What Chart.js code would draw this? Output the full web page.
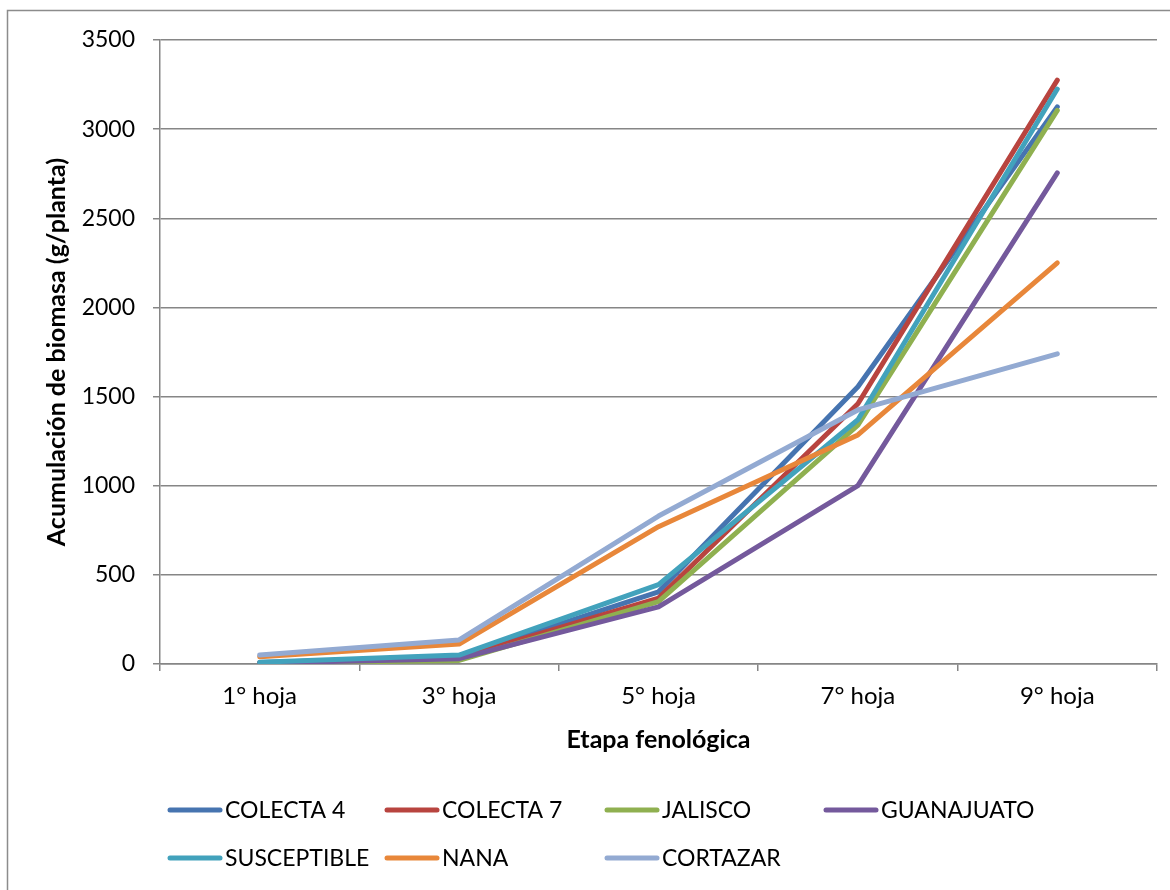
<!DOCTYPE html>
<html>
<head>
<meta charset="utf-8">
<title>Acumulación de biomasa</title>
<script src="https://cdn.jsdelivr.net/npm/chart.js@4.4.1/dist/chart.umd.min.js"></script>
<style>
  html, body { margin: 0; padding: 0; background: #fff; overflow: hidden; }
  canvas { display: block; }
</style>
</head>
<body>
<canvas id="biomasaChart" width="1170" height="890"></canvas>
<script>
// etapas y acumulación de biomasa (g/planta) por material
const stages = ["1° hoja", "3° hoja", "5° hoja", "7° hoja", "9° hoja"];
const colecta4 = [8, 40, 405, 1555, 3125];
const colecta7 = [6, 35, 370, 1460, 3275];
const jalisco = [4, 20, 350, 1340, 3105];
const guanajuato = [5, 30, 320, 1000, 2755];
const susceptible = [10, 50, 445, 1370, 3225];
const nana = [40, 112, 770, 1285, 2250];
const cortazar = [50, 135, 830, 1425, 1740];

const seriesNames = ["COLECTA 4", "COLECTA 7", "JALISCO", "GUANAJUATO", "SUSCEPTIBLE", "NANA", "CORTAZAR"];
const seriesData = [colecta4, colecta7, jalisco, guanajuato, susceptible, nana, cortazar];
const seriesColors = ["#4674B0", "#B8443F", "#8FB050", "#74599C", "#42A2BC", "#E8873A", "#93AAD2"];

const FONT = "Lato, 'Liberation Sans', sans-serif";
const GRID = "#868686";
Chart.defaults.font.family = FONT;
Chart.defaults.color = "#000";

// marco exterior (solo borde superior e izquierdo quedan dentro del lienzo)
const framePlugin = {
  id: "frame",
  beforeDraw(chart) {
    const { ctx } = chart;
    ctx.save();
    ctx.strokeStyle = "#8c8c8c";
    ctx.lineWidth = 1.5;
    ctx.beginPath();
    ctx.moveTo(7.5, chart.height);
    ctx.lineTo(7.5, 10.5);
    ctx.lineTo(chart.width, 10.5);
    ctx.stroke();
    ctx.restore();
  }
};

// leyenda en rejilla de 4 columnas
const gridLegend = {
  id: "gridLegend",
  afterDraw(chart) {
    const { ctx } = chart;
    const cols = [168, 385, 605, 824];
    const rows = [810, 858];
    ctx.save();
    ctx.font = `23px ${FONT}`;
    ctx.textBaseline = "middle";
    ctx.fillStyle = "#000";
    chart.data.datasets.forEach((ds, i) => {
      const x = cols[i % 4];
      const y = rows[Math.floor(i / 4)];
      ctx.strokeStyle = ds.borderColor;
      ctx.lineWidth = 5;
      ctx.lineCap = "round";
      ctx.beginPath();
      ctx.moveTo(x + 2, y);
      ctx.lineTo(x + 52, y);
      ctx.stroke();
      ctx.fillText(ds.label, x + 57, y + 1);
    });
    ctx.restore();
  }
};

new Chart(document.getElementById("biomasaChart"), {
  type: "line",
  data: {
    labels: stages,
    datasets: seriesNames.map((name, i) => ({
      label: name,
      data: seriesData[i],
      borderColor: seriesColors[i],
      backgroundColor: seriesColors[i],
      borderWidth: 5,
      borderCapStyle: "round",
      borderJoinStyle: "round",
      pointRadius: 0,
      tension: 0,
      order: seriesNames.length - i
    }))
  },
  options: {
    responsive: false,
    animation: false,
    layout: { padding: { left: 0, right: 13, top: 40, bottom: 130 } },
    plugins: { legend: { display: false }, tooltip: { enabled: false } },
    scales: {
      x: {
        offset: true,
        grid: { drawOnChartArea: false, drawTicks: true, tickLength: 7, offset: true, color: GRID, lineWidth: 1.5 },
        border: { color: GRID, width: 1.5 },
        ticks: { font: { size: 24 }, padding: 11, color: "#000" },
        title: { display: true, text: "Etapa fenológica", font: { size: 25, weight: "bold" }, color: "#000", padding: { top: 0, bottom: 5 } },
        afterFit: (scale) => { scale.height = 96; }
      },
      y: {
        min: 0,
        max: 3500,
        ticks: { stepSize: 500, font: { size: 23 }, padding: 18, color: "#000", callback: (v) => String(v) },
        grid: { color: GRID, lineWidth: 1.5, tickLength: 7 },
        border: { color: GRID, width: 1.5 },
        title: { display: true, text: "Acumulación de biomasa (g/planta)", font: { size: 25, weight: "bold" }, color: "#000", padding: { top: 42, bottom: 0 } },
        afterFit: (scale) => { scale.width = 160; }
      }
    }
  },
  plugins: [framePlugin, gridLegend]
});
</script>
</body>
</html>
